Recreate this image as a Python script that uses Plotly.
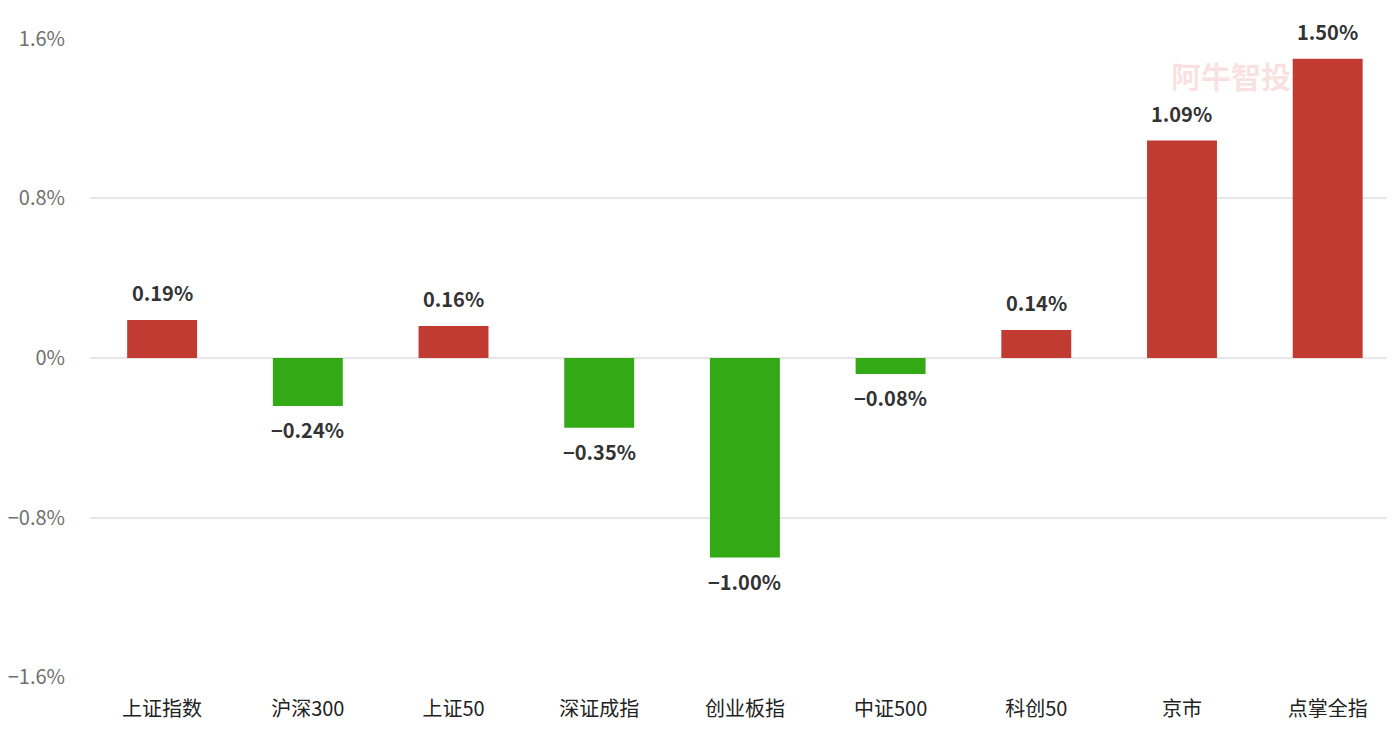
import plotly.graph_objects as go

categories = ["上证指数", "沪深300", "上证50", "深证成指", "创业板指", "中证500", "科创50", "京市", "点掌全指"]
values = [0.19, -0.24, 0.16, -0.35, -1.00, -0.08, 0.14, 1.09, 1.50]
tick_vals = [-1.6, -0.8, 0, 0.8, 1.6]
tick_text = ["\u22121.6%", "\u22120.8%", "0%", "0.8%", "1.6%"]

RED = "#c23b33"
GREEN = "#33a915"
colors = [RED if v >= 0 else GREEN for v in values]

def fmt(v):
    s = f"{abs(v):.2f}%"
    return ("\u2212" + s) if v < 0 else s

fig = go.Figure()
fig.add_trace(go.Bar(
    x=categories, y=values, marker=dict(color=colors, line=dict(width=0)),
    width=0.48, hoverinfo="skip"
))

for c, v in zip(categories, values):
    fig.add_annotation(
        x=c, y=v, text=fmt(v), showarrow=False,
        yanchor="bottom" if v >= 0 else "top",
        yshift=11 if v >= 0 else -7,
        font=dict(family="Noto Sans CJK SC", size=20, color="#333333", weight=600),
    )

# watermark
fig.add_annotation(
    xref="paper", yref="paper", x=0.8745, y=0.942, text="阿牛智投", showarrow=False,
    xanchor="center", yanchor="middle",
    font=dict(family="Noto Sans CJK SC", size=30, color="rgba(240,150,150,0.28)", weight=700),
)

fig.update_layout(
    width=1387, height=722,
    margin=dict(l=80, r=0, t=30, b=52),
    plot_bgcolor="white", paper_bgcolor="white",
    showlegend=False, bargap=0.52,
    font=dict(family="Noto Sans CJK SC"),
)
fig.update_xaxes(
    range=[-0.495, 8.462],
    showgrid=False, showline=False, ticks="", ticklabelstandoff=17,
    tickfont=dict(family="Noto Sans CJK SC", size=20, color="#222222"),
)
fig.update_yaxes(
    range=[-1.604, 1.604], tickvals=tick_vals, ticktext=tick_text,
    showgrid=True, gridcolor="#e6e6e6", gridwidth=1.5,
    zeroline=True, zerolinecolor="#e6e6e6", zerolinewidth=1.5,
    showline=False, ticks="", ticklabelstandoff=24,
    tickfont=dict(family="Noto Sans CJK SC", size=20, color="#707070"),
)

fig.write_html("out.html")
